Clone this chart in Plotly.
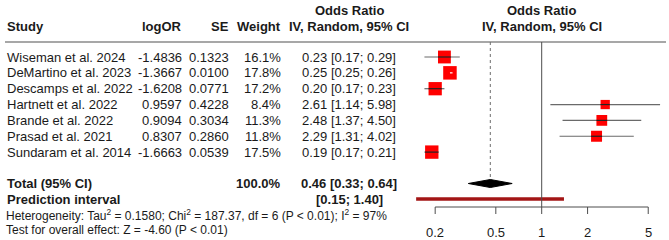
import math
import plotly.graph_objects as go

# ---------------- data ----------------
studies = ["Wiseman et al. 2024", "DeMartino et al. 2023", "Descamps et al. 2022",
           "Hartnett et al. 2022", "Brande et al. 2022", "Prasad et al. 2021",
           "Sundaram et al. 2014"]
log_or = ["-1.4836", "-1.3667", "-1.6208", "0.9597", "0.9094", "0.8307", "-1.6663"]
se = ["0.1323", "0.0100", "0.0771", "0.4228", "0.3034", "0.2860", "0.0539"]
weights = [16.1, 17.8, 17.2, 8.4, 11.3, 11.8, 17.5]
or_est = [0.23, 0.25, 0.20, 2.61, 2.48, 2.29, 0.19]
ci_low = [0.17, 0.25, 0.17, 1.14, 1.37, 1.31, 0.17]
ci_high = [0.29, 0.26, 0.23, 5.98, 4.50, 4.02, 0.21]

total_weight = "100.0%"
pooled_or, pooled_low, pooled_high = 0.46, 0.33, 0.64
pred_low, pred_high = 0.15, 1.40
tick_vals = [0.2, 0.5, 1, 2, 5]
tick_labels = ["0.2", "0.5", "1", "2", "5"]
het_text = ("Heterogeneity: Tau<sup>2</sup> = 0.1580; Chi<sup>2</sup> = 187.37, df = 6 "
            "(P &lt; 0.01); I<sup>2</sup> = 97%")
test_text = "Test for overall effect: Z = -4.60 (P &lt; 0.01)"

# ---------------- layout constants ----------------
W, H = 669, 240
FONT = "Liberation Sans, Arial, Helvetica, sans-serif"
TXT = "#1a1a1a"
FS = 13
FS_SMALL = 12
px_per_dec = 152.4
px_one = 541.7
x_lo = (0 - px_one) / px_per_dec
x_hi = (W - px_one) / px_per_dec

row0, drow = 57, 15.85
rows_y = [row0 + i * drow for i in range(len(studies))]
y_total = 183.5
y_pred = 199
y_het = 214.5
y_test = 230
y_head1 = 10.5
y_head2 = 26.5
y_hline = 42
y_axis = 207

fig = go.Figure()
ann = []

def txt(x, y, s, anchor="left", size=FS, bold=False):
    ann.append(dict(x=x / W, xref="paper", y=y, yref="y", text=("<b>%s</b>" % s) if bold else s,
                    showarrow=False, xanchor=anchor, yanchor="middle",
                    font=dict(family=FONT, size=size, color=TXT)))

# headers
txt(5, y_head2, "Study", bold=True)
txt(184, y_head2, "logOR", "right", bold=True)
txt(231, y_head2, "SE", "right", bold=True)
txt(283, y_head2, "Weight", "right", bold=True)
txt(349, y_head1, "Odds Ratio", "center", bold=True)
txt(349, y_head2, "IV, Random, 95% CI", "center", bold=True)
txt(px_one, y_head1, "Odds Ratio", "center", bold=True)
txt(px_one, y_head2, "IV, Random, 95% CI", "center", bold=True)

for i, s in enumerate(studies):
    y = rows_y[i]
    txt(5, y, s)
    txt(184, y, log_or[i], "right")
    txt(231, y, se[i], "right")
    txt(283, y, "%.1f%%" % weights[i], "right")
    txt(349, y, "%.2f [%.2f; %.2f]" % (or_est[i], ci_low[i], ci_high[i]), "center")

txt(5, y_total, "Total (95% CI)", bold=True)
txt(283, y_total, total_weight, "right", bold=True)
txt(349, y_total, "%.2f [%.2f; %.2f]" % (pooled_or, pooled_low, pooled_high), "center", bold=True)
txt(5, y_pred, "Prediction interval", bold=True)
txt(349, y_pred, "[%.2f; %.2f]" % (pred_low, pred_high), "center", bold=True)
txt(4, y_het, het_text, size=FS_SMALL)
txt(4, y_test, test_text, size=FS_SMALL)

# axis tick labels (log axis: annotation x in log10 units)
for v, lab in zip(tick_vals, tick_labels):
    ann.append(dict(x=math.log10(v), xref="x", y=232, yref="y", text=lab, showarrow=False,
                    xanchor="center", yanchor="middle",
                    font=dict(family=FONT, size=FS, color=TXT)))

# header rule
shapes = [dict(type="line", xref="paper", yref="y", x0=5 / W, x1=666 / W, y0=y_hline, y1=y_hline,
               line=dict(color="#8a8a8a", width=1.5))]
# reference line at 1
shapes.append(dict(type="line", xref="x", yref="y", x0=1, x1=1, y0=y_hline, y1=y_axis,
                   line=dict(color="#4d4d4d", width=1)))
# pooled dotted line
shapes.append(dict(type="line", xref="x", yref="y", x0=pooled_or, x1=pooled_or, y0=y_hline,
                   y1=y_total - 4, line=dict(color="#6d6d6d", width=1, dash="dot")))

# study CIs
for i in range(len(studies)):
    fig.add_trace(go.Scatter(x=[ci_low[i], ci_high[i]], y=[rows_y[i]] * 2, mode="lines",
                             line=dict(color="#6a6a6a", width=1.2), hoverinfo="skip",
                             showlegend=False))
# squares
sizes = [3.2 * math.sqrt(w) for w in weights]
fig.add_trace(go.Scatter(x=or_est, y=rows_y, mode="markers",
                         marker=dict(symbol="square", size=sizes, color="#ff0000",
                                     opacity=1, line=dict(width=0)),
                         hoverinfo="skip", showlegend=False))
# line inside squares
for i in range(len(studies)):
    half = sizes[i] / 2 / px_per_dec
    lo = max(ci_low[i], or_est[i] / 10 ** half)
    hi = min(ci_high[i], or_est[i] * 10 ** half)
    inside = ci_low[i] >= or_est[i] / 10 ** half and ci_high[i] <= or_est[i] * 10 ** half
    fig.add_trace(go.Scatter(x=[lo, hi], y=[rows_y[i]] * 2, mode="lines",
                             line=dict(color="white" if inside else "#222222", width=1.2),
                             hoverinfo="skip", showlegend=False))

# diamond
fig.add_trace(go.Scatter(x=[pooled_low, pooled_or, pooled_high, pooled_or, pooled_low],
                         y=[y_total, y_total - 4, y_total, y_total + 4, y_total],
                         mode="lines", fill="toself", fillcolor="black",
                         line=dict(color="black", width=1), hoverinfo="skip", showlegend=False))
# prediction interval
fig.add_trace(go.Scatter(x=[pred_low, pred_high], y=[y_pred, y_pred], mode="lines",
                         line=dict(color="#a31515", width=3.5), hoverinfo="skip",
                         showlegend=False))
# axis
fig.add_trace(go.Scatter(x=[tick_vals[0], tick_vals[-1]], y=[y_axis, y_axis], mode="lines",
                         line=dict(color="#4d4d4d", width=1), hoverinfo="skip", showlegend=False))
for v in tick_vals:
    fig.add_trace(go.Scatter(x=[v, v], y=[y_axis, y_axis + 7], mode="lines",
                             line=dict(color="#4d4d4d", width=1), hoverinfo="skip",
                             showlegend=False))

fig.update_layout(
    width=W, height=H, margin=dict(l=0, r=0, t=0, b=0),
    paper_bgcolor="white", plot_bgcolor="white",
    xaxis=dict(type="log", range=[x_lo, x_hi], domain=[0, 1], visible=False, fixedrange=True),
    yaxis=dict(range=[H, 0], domain=[0, 1], visible=False, fixedrange=True),
    annotations=ann, shapes=shapes, showlegend=False,
)
fig.write_html("out.html", config={"displayModeBar": False},
               post_script="document.body.style.margin='0';")
